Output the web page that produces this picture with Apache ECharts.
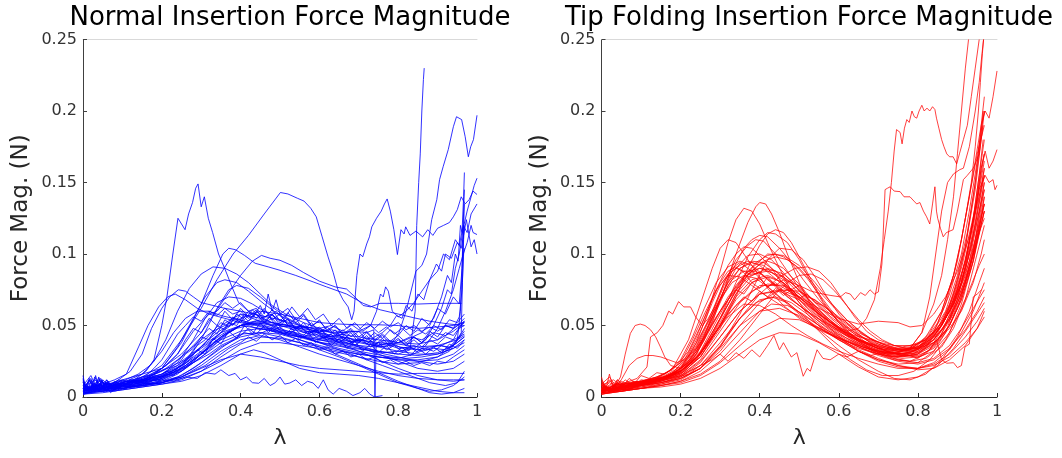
<!DOCTYPE html>
<html>
<head>
<meta charset="utf-8">
<script src="https://cdn.jsdelivr.net/npm/echarts@6/dist/echarts.min.js"></script>
<style>html,body{margin:0;padding:0;background:#fff}#c{width:1062px;height:458px}</style>
</head>
<body>
<div id="c"></div>
<script>
const titles = ['Normal Insertion Force Magnitude', 'Tip Folding Insertion Force Magnitude'];
const yName = 'Force Mag. (N)';
const xName = 'λ';
const xTicks = [0, 0.2, 0.4, 0.6, 0.8, 1];
const yTicks = [0, 0.05, 0.1, 0.15, 0.2, 0.25];

// ---- Normal insertion (blue) curves: [lambda, force] ----
const blue01 = [[0,0.004],[0.03,0.009],[0.06,0.006],[0.1,0.01],[0.13,0.012],[0.16,0.018],[0.18,0.026],[0.2,0.05],[0.213,0.07],[0.228,0.1],[0.241,0.125],[0.25,0.121],[0.259,0.117],[0.268,0.128],[0.278,0.136],[0.286,0.146],[0.292,0.149],[0.3,0.133],[0.308,0.14],[0.318,0.125],[0.329,0.115],[0.344,0.1],[0.361,0.089],[0.378,0.077],[0.395,0.066],[0.42,0.06],[0.45,0.056],[0.48,0.052],[0.52,0.05],[0.56,0.046],[0.6,0.045],[0.65,0.042],[0.7,0.04],[0.75,0.038],[0.8,0.037],[0.85,0.035],[0.9,0.036],[0.95,0.04],[0.968,0.043]];
const blue02 = [[0,0.003],[0.05,0.006],[0.1,0.01],[0.15,0.014],[0.2,0.022],[0.25,0.04],[0.3,0.062],[0.34,0.082],[0.381,0.1],[0.42,0.113],[0.46,0.128],[0.501,0.143],[0.52,0.142],[0.544,0.139],[0.561,0.137],[0.578,0.132],[0.592,0.126],[0.607,0.112],[0.622,0.098],[0.635,0.087],[0.647,0.075],[0.66,0.068],[0.673,0.063],[0.682,0.054],[0.688,0.06],[0.695,0.085],[0.703,0.1],[0.71,0.098],[0.72,0.107],[0.727,0.112],[0.733,0.119],[0.745,0.125],[0.757,0.13],[0.765,0.135],[0.772,0.1385],[0.78,0.13],[0.789,0.117],[0.798,0.0996],[0.807,0.117],[0.815,0.114],[0.819,0.119],[0.83,0.113],[0.845,0.116],[0.862,0.112],[0.875,0.117],[0.888,0.113],[0.9,0.118],[0.915,0.12],[0.93,0.122],[0.94,0.126],[0.95,0.131],[0.96,0.14],[0.97,0.135],[0.98,0.138],[0.99,0.144],[1.0,0.1416]];
const blue03 = [[0,0.005],[0.05,0.007],[0.1,0.009],[0.15,0.013],[0.2,0.02],[0.25,0.038],[0.3,0.065],[0.33,0.085],[0.355,0.1],[0.37,0.104],[0.387,0.103],[0.41,0.099],[0.437,0.0935],[0.47,0.091],[0.5,0.0886],[0.54,0.085],[0.584,0.0805],[0.618,0.077],[0.669,0.072],[0.711,0.0655],[0.754,0.061],[0.8,0.058],[0.838,0.0555],[0.88,0.053],[0.93,0.051],[0.968,0.05]];
const blue04 = [[0,0.006],[0.05,0.008],[0.1,0.012],[0.15,0.016],[0.2,0.02],[0.25,0.03],[0.3,0.045],[0.35,0.065],[0.4,0.085],[0.43,0.095],[0.453,0.099],[0.475,0.097],[0.5,0.0956],[0.53,0.092],[0.56,0.087],[0.6,0.081],[0.64,0.077],[0.669,0.0755],[0.69,0.07],[0.711,0.064],[0.73,0.063],[0.754,0.0655],[0.8,0.0655],[0.85,0.065],[0.9,0.0655],[0.961,0.0655]];
const blue05 = [[0,0.01],[0.02,0.004],[0.04,0.012],[0.07,0.006],[0.1,0.009],[0.15,0.012],[0.2,0.018],[0.25,0.025],[0.3,0.035],[0.35,0.045],[0.4,0.05],[0.45,0.048],[0.5,0.045],[0.55,0.042],[0.6,0.04],[0.65,0.038],[0.7,0.035],[0.75,0.032],[0.8,0.03],[0.83,0.033],[0.843,0.06],[0.847,0.12],[0.852,0.15],[0.856,0.17],[0.86,0.2],[0.864,0.222],[0.866,0.23]];
const blue06 = [[0,0.002],[0.05,0.005],[0.1,0.008],[0.15,0.01],[0.2,0.014],[0.25,0.022],[0.3,0.035],[0.35,0.05],[0.4,0.058],[0.45,0.055],[0.5,0.05],[0.55,0.046],[0.6,0.042],[0.65,0.04],[0.7,0.038],[0.74,0.036],[0.77,0.035],[0.79,0.04],[0.802,0.045],[0.82,0.06],[0.845,0.088],[0.86,0.092],[0.872,0.1],[0.885,0.124],[0.898,0.138],[0.905,0.152],[0.914,0.161],[0.927,0.173],[0.94,0.189],[0.948,0.196],[0.961,0.194],[0.97,0.182],[0.978,0.168],[0.984,0.175],[0.991,0.18],[1.0,0.197]];
const blue07 = [[0,0.008],[0.04,0.006],[0.08,0.01],[0.12,0.018],[0.15,0.03],[0.174,0.048],[0.2,0.062],[0.22,0.07],[0.242,0.075],[0.26,0.074],[0.28,0.07],[0.3,0.066],[0.33,0.064],[0.36,0.062],[0.4,0.06],[0.45,0.057],[0.5,0.054],[0.55,0.05],[0.6,0.047],[0.65,0.044],[0.7,0.042],[0.75,0.04],[0.8,0.038],[0.85,0.037],[0.9,0.04],[0.94,0.046],[0.968,0.052]];
const blue08 = [[0,0.004],[0.05,0.006],[0.1,0.01],[0.15,0.016],[0.18,0.025],[0.21,0.04],[0.24,0.06],[0.27,0.076],[0.3,0.086],[0.33,0.091],[0.36,0.09],[0.39,0.086],[0.42,0.08],[0.45,0.072],[0.48,0.064],[0.52,0.057],[0.56,0.052],[0.6,0.048],[0.65,0.043],[0.7,0.039],[0.75,0.035],[0.8,0.032],[0.85,0.03],[0.9,0.03],[0.94,0.034],[0.968,0.04]];
const blue09 = [[0,0.007],[0.05,0.005],[0.1,0.008],[0.15,0.012],[0.2,0.02],[0.24,0.035],[0.28,0.055],[0.31,0.07],[0.34,0.08],[0.36,0.082],[0.39,0.08],[0.42,0.074],[0.46,0.065],[0.5,0.057],[0.55,0.05],[0.6,0.045],[0.65,0.04],[0.7,0.035],[0.75,0.03],[0.8,0.025],[0.85,0.02],[0.9,0.018],[0.94,0.02],[0.968,0.025]];
const blue10 = [[0,0.003],[0.05,0.004],[0.1,0.006],[0.15,0.009],[0.2,0.013],[0.25,0.022],[0.3,0.04],[0.34,0.062],[0.37,0.075],[0.39,0.078],[0.42,0.076],[0.45,0.07],[0.48,0.063],[0.52,0.055],[0.56,0.049],[0.6,0.044],[0.65,0.038],[0.7,0.032],[0.75,0.026],[0.8,0.02],[0.85,0.015],[0.9,0.012],[0.94,0.011],[0.968,0.012]];
const blue11 = [[0,0.002],[0.05,0.003],[0.1,0.005],[0.15,0.007],[0.2,0.009],[0.25,0.011],[0.3,0.015],[0.35,0.022],[0.4,0.03],[0.433,0.033],[0.46,0.031],[0.5,0.026],[0.55,0.02],[0.6,0.017],[0.65,0.016],[0.7,0.015],[0.75,0.013],[0.8,0.01],[0.85,0.007],[0.9,0.004],[0.94,0.003],[0.968,0.003]];
const blue12 = [[0,0.006],[0.02,0.013],[0.03,0.004],[0.05,0.011],[0.07,0.003],[0.09,0.008],[0.12,0.007],[0.15,0.01],[0.18,0.009],[0.2,0.012],[0.23,0.011],[0.26,0.014],[0.29,0.013],[0.31,0.017],[0.335,0.016],[0.35,0.019],[0.37,0.015],[0.386,0.0165],[0.4,0.012],[0.415,0.014],[0.43,0.01],[0.446,0.0096],[0.46,0.013],[0.475,0.008],[0.488,0.01],[0.5,0.014],[0.512,0.009],[0.525,0.0098],[0.54,0.012],[0.555,0.008],[0.57,0.011],[0.584,0.0098],[0.597,0.006],[0.61,0.012],[0.622,0.005],[0.635,0.002],[0.65,0.006],[0.669,0.004],[0.685,0.001],[0.703,0.003],[0.715,0.006],[0.728,0.002],[0.74,0.0],[0.76,0.001]];
const blue13 = [[0,0.012],[0.015,0.003],[0.03,0.014],[0.045,0.005],[0.06,0.012],[0.08,0.006],[0.1,0.01],[0.12,0.008],[0.14,0.013],[0.16,0.011],[0.18,0.015],[0.2,0.014],[0.22,0.02],[0.24,0.022],[0.26,0.03],[0.28,0.034],[0.3,0.042],[0.32,0.04],[0.34,0.05],[0.36,0.047],[0.38,0.056],[0.4,0.052],[0.42,0.06],[0.44,0.055],[0.46,0.062],[0.48,0.054],[0.5,0.058],[0.52,0.05],[0.54,0.055],[0.56,0.047],[0.58,0.052],[0.6,0.045],[0.62,0.049],[0.64,0.043],[0.66,0.047],[0.68,0.042],[0.7,0.046],[0.72,0.04],[0.74,0.045],[0.76,0.041],[0.78,0.047],[0.8,0.043],[0.82,0.05],[0.84,0.046],[0.86,0.055],[0.88,0.05],[0.9,0.062],[0.92,0.058],[0.94,0.07],[0.955,0.065],[0.962,0.09],[0.966,0.13],[0.968,0.145]];
const blue14 = [[0,0.008],[0.02,0.015],[0.035,0.006],[0.05,0.012],[0.07,0.007],[0.09,0.011],[0.11,0.009],[0.13,0.012],[0.15,0.01],[0.17,0.014],[0.19,0.013],[0.21,0.018],[0.23,0.017],[0.25,0.024],[0.27,0.028],[0.29,0.036],[0.31,0.04],[0.33,0.046],[0.35,0.052],[0.37,0.049],[0.39,0.058],[0.41,0.054],[0.43,0.061],[0.45,0.055],[0.47,0.057],[0.49,0.05],[0.51,0.054],[0.53,0.047],[0.55,0.05],[0.57,0.044],[0.59,0.047],[0.61,0.041],[0.63,0.044],[0.65,0.038],[0.67,0.042],[0.69,0.036],[0.71,0.04],[0.73,0.035],[0.75,0.038],[0.77,0.033],[0.79,0.036],[0.81,0.032],[0.83,0.035],[0.85,0.031],[0.87,0.034],[0.89,0.032],[0.91,0.036],[0.93,0.034],[0.95,0.04],[0.96,0.045],[0.963,0.08],[0.966,0.11],[0.968,0.12]];
const blue15 = [[0,0.005],[0.02,0.01],[0.04,0.004],[0.06,0.009],[0.08,0.005],[0.1,0.008],[0.13,0.009],[0.16,0.011],[0.19,0.012],[0.22,0.015],[0.25,0.019],[0.28,0.025],[0.31,0.033],[0.33,0.04],[0.35,0.045],[0.37,0.052],[0.39,0.05],[0.41,0.058],[0.43,0.055],[0.45,0.064],[0.46,0.058],[0.47,0.072],[0.48,0.06],[0.49,0.068],[0.5,0.058],[0.52,0.062],[0.54,0.054],[0.56,0.058],[0.58,0.05],[0.6,0.053],[0.62,0.047],[0.64,0.05],[0.66,0.044],[0.68,0.048],[0.7,0.042],[0.72,0.046],[0.74,0.04],[0.76,0.044],[0.78,0.039],[0.8,0.043],[0.82,0.038],[0.84,0.042],[0.86,0.038],[0.88,0.043],[0.9,0.04],[0.92,0.045],[0.94,0.043],[0.96,0.05],[0.968,0.053]];
const blue16 = [[0,0.003],[0.03,0.008],[0.06,0.004],[0.1,0.007],[0.15,0.009],[0.2,0.011],[0.24,0.014],[0.28,0.02],[0.32,0.028],[0.36,0.036],[0.4,0.043],[0.42,0.048],[0.44,0.044],[0.46,0.05],[0.48,0.046],[0.5,0.049],[0.52,0.044],[0.54,0.047],[0.56,0.042],[0.58,0.045],[0.6,0.04],[0.62,0.043],[0.64,0.039],[0.66,0.042],[0.68,0.038],[0.7,0.041],[0.72,0.037],[0.74,0.042],[0.76,0.045],[0.78,0.05],[0.796,0.057],[0.81,0.055],[0.82,0.064],[0.835,0.06],[0.85,0.072],[0.865,0.068],[0.88,0.082],[0.897,0.093],[0.91,0.088],[0.92,0.1],[0.935,0.097],[0.95,0.108],[0.96,0.104],[0.973,0.124],[0.985,0.105],[0.993,0.11],[1.0,0.1]];
const blue17 = [[0,0.009],[0.025,0.004],[0.05,0.01],[0.075,0.006],[0.1,0.011],[0.14,0.01],[0.18,0.013],[0.22,0.016],[0.26,0.022],[0.3,0.03],[0.33,0.038],[0.36,0.044],[0.39,0.048],[0.42,0.05],[0.45,0.047],[0.48,0.048],[0.52,0.043],[0.56,0.042],[0.6,0.038],[0.64,0.037],[0.68,0.034],[0.72,0.033],[0.76,0.031],[0.8,0.032],[0.84,0.034],[0.87,0.04],[0.89,0.05],[0.91,0.062],[0.925,0.075],[0.935,0.072],[0.945,0.09],[0.955,0.1],[0.965,0.118],[0.975,0.13],[0.985,0.14],[0.993,0.148],[1.0,0.153]];
const blue18 = [[0,0.004],[0.05,0.007],[0.1,0.006],[0.15,0.008],[0.2,0.01],[0.25,0.015],[0.3,0.024],[0.35,0.035],[0.4,0.042],[0.45,0.045],[0.5,0.044],[0.55,0.04],[0.6,0.036],[0.65,0.033],[0.7,0.03],[0.75,0.028],[0.8,0.027],[0.84,0.03],[0.87,0.036],[0.9,0.048],[0.92,0.06],[0.94,0.075],[0.955,0.09],[0.965,0.1],[0.975,0.108],[0.985,0.12],[0.99,0.115],[1.0,0.1136]];
const blue19 = [[0,0.007],[0.03,0.012],[0.06,0.005],[0.09,0.01],[0.12,0.008],[0.16,0.012],[0.2,0.015],[0.24,0.02],[0.28,0.03],[0.31,0.038],[0.34,0.045],[0.37,0.05],[0.4,0.053],[0.43,0.05],[0.46,0.052],[0.5,0.047],[0.54,0.045],[0.58,0.042],[0.62,0.04],[0.66,0.038],[0.7,0.036],[0.74,0.035],[0.78,0.036],[0.82,0.04],[0.86,0.045],[0.89,0.055],[0.91,0.07],[0.925,0.085],[0.935,0.08],[0.945,0.1],[0.952,0.095],[0.958,0.12],[0.962,0.115],[0.966,0.14],[0.968,0.157]];
const blue20 = [[0,0.002],[0.04,0.005],[0.08,0.004],[0.12,0.007],[0.16,0.008],[0.2,0.011],[0.24,0.016],[0.28,0.025],[0.32,0.035],[0.36,0.044],[0.4,0.05],[0.44,0.052],[0.48,0.05],[0.52,0.046],[0.56,0.042],[0.6,0.038],[0.64,0.034],[0.68,0.03],[0.72,0.026],[0.76,0.022],[0.8,0.018],[0.84,0.014],[0.88,0.01],[0.92,0.008],[0.95,0.01],[0.968,0.018]];
const blue21 = [[0,0.01],[0.02,0.004],[0.04,0.013],[0.06,0.007],[0.09,0.012],[0.12,0.01],[0.15,0.014],[0.18,0.016],[0.21,0.02],[0.24,0.026],[0.27,0.033],[0.3,0.04],[0.33,0.046],[0.36,0.05],[0.39,0.055],[0.42,0.052],[0.45,0.054],[0.48,0.05],[0.51,0.051],[0.54,0.048],[0.57,0.049],[0.6,0.046],[0.63,0.047],[0.66,0.045],[0.69,0.046],[0.72,0.045],[0.738,0.047],[0.741,0.0],[0.744,0.035],[0.76,0.038],[0.79,0.036],[0.82,0.034],[0.85,0.033],[0.88,0.035],[0.91,0.036],[0.94,0.04],[0.968,0.044]];
const blue22 = [[0,0.005],[0.05,0.009],[0.1,0.008],[0.15,0.011],[0.2,0.014],[0.25,0.02],[0.3,0.03],[0.35,0.042],[0.4,0.05],[0.45,0.052],[0.5,0.05],[0.55,0.048],[0.6,0.046],[0.65,0.045],[0.7,0.046],[0.73,0.05],[0.745,0.06],[0.755,0.072],[0.762,0.07],[0.768,0.077],[0.775,0.074],[0.785,0.06],[0.8,0.056],[0.82,0.06],[0.84,0.066],[0.86,0.074],[0.88,0.082],[0.9,0.088],[0.915,0.1],[0.93,0.096],[0.945,0.11],[0.955,0.106],[0.965,0.12],[0.975,0.115],[0.985,0.128],[1.0,0.135]];
const blue23 = [[0,0.003],[0.05,0.004],[0.1,0.006],[0.15,0.008],[0.2,0.012],[0.25,0.018],[0.3,0.028],[0.35,0.038],[0.4,0.044],[0.45,0.045],[0.5,0.042],[0.55,0.038],[0.6,0.033],[0.65,0.028],[0.7,0.022],[0.75,0.016],[0.8,0.01],[0.85,0.006],[0.88,0.004],[0.91,0.005],[0.94,0.008],[0.968,0.014]];
const blue24 = [[0,0.006],[0.05,0.005],[0.1,0.007],[0.15,0.009],[0.2,0.01],[0.25,0.013],[0.3,0.018],[0.35,0.025],[0.4,0.033],[0.45,0.038],[0.5,0.038],[0.55,0.036],[0.6,0.034],[0.65,0.031],[0.7,0.028],[0.75,0.025],[0.8,0.023],[0.85,0.024],[0.9,0.028],[0.94,0.036],[0.968,0.046]];
const blue25 = [[0,0.004],[0.05,0.006],[0.1,0.007],[0.15,0.008],[0.2,0.01],[0.25,0.014],[0.3,0.02],[0.35,0.026],[0.4,0.03],[0.45,0.028],[0.5,0.025],[0.55,0.022],[0.6,0.02],[0.65,0.019],[0.7,0.018],[0.75,0.017],[0.8,0.016],[0.85,0.0165],[0.9,0.0165],[0.968,0.0165]];
const blue26 = [[0,0.011],[0.02,0.005],[0.04,0.01],[0.06,0.004],[0.08,0.009],[0.1,0.012],[0.13,0.01],[0.16,0.013],[0.19,0.017],[0.22,0.021],[0.25,0.028],[0.28,0.036],[0.3,0.042],[0.32,0.048],[0.34,0.044],[0.36,0.054],[0.38,0.05],[0.4,0.058],[0.42,0.053],[0.44,0.06],[0.46,0.055],[0.48,0.061],[0.5,0.053],[0.52,0.059],[0.54,0.052],[0.56,0.057],[0.58,0.049],[0.6,0.054],[0.62,0.046],[0.64,0.05],[0.66,0.043],[0.68,0.047],[0.7,0.04],[0.72,0.045],[0.74,0.039],[0.76,0.043],[0.78,0.037],[0.8,0.041],[0.82,0.036],[0.84,0.04],[0.86,0.035],[0.88,0.04],[0.9,0.037],[0.92,0.042],[0.94,0.04],[0.955,0.048],[0.968,0.05]];
const blue27 = [[0,0.002],[0.05,0.004],[0.1,0.005],[0.15,0.007],[0.2,0.009],[0.25,0.012],[0.3,0.018],[0.35,0.028],[0.4,0.037],[0.45,0.042],[0.5,0.041],[0.55,0.038],[0.6,0.035],[0.65,0.032],[0.7,0.03],[0.75,0.028],[0.8,0.026],[0.85,0.026],[0.9,0.028],[0.93,0.032],[0.95,0.04],[0.958,0.06],[0.962,0.09],[0.965,0.11],[0.968,0.135]];
const blue28 = [[0,0.005],[0.05,0.006],[0.1,0.009],[0.15,0.012],[0.2,0.016],[0.24,0.024],[0.28,0.04],[0.31,0.055],[0.34,0.066],[0.37,0.07],[0.4,0.069],[0.43,0.065],[0.46,0.06],[0.5,0.054],[0.55,0.048],[0.6,0.043],[0.65,0.039],[0.7,0.036],[0.75,0.032],[0.8,0.03],[0.85,0.029],[0.9,0.031],[0.94,0.036],[0.968,0.042]];
const blue29 = [[0,0.006],[0.04,0.008],[0.08,0.012],[0.11,0.016],[0.141,0.035],[0.165,0.05],[0.192,0.063],[0.215,0.07],[0.234,0.072],[0.26,0.068],[0.29,0.062],[0.32,0.058],[0.36,0.055],[0.4,0.052],[0.45,0.05],[0.5,0.046],[0.55,0.043],[0.6,0.04],[0.65,0.037],[0.7,0.034],[0.75,0.031],[0.8,0.028],[0.85,0.025],[0.9,0.023],[0.94,0.025],[0.968,0.03]];
const blue30 = [[0,0.004],[0.05,0.01],[0.1,0.008],[0.15,0.012],[0.2,0.016],[0.25,0.022],[0.3,0.032],[0.35,0.045],[0.4,0.055],[0.45,0.06],[0.5,0.058],[0.55,0.055],[0.6,0.052],[0.65,0.051],[0.7,0.0505],[0.75,0.0505],[0.8,0.05],[0.85,0.048],[0.9,0.049],[0.94,0.05],[0.968,0.052]];
const blue31 = [[0,0.013],[0.01,0.003],[0.02,0.011],[0.03,0.005],[0.04,0.014],[0.05,0.006],[0.06,0.012],[0.075,0.004],[0.09,0.01],[0.11,0.006],[0.13,0.011],[0.15,0.008],[0.17,0.013],[0.19,0.011],[0.21,0.016],[0.23,0.015],[0.25,0.021],[0.27,0.026],[0.29,0.033],[0.31,0.03],[0.33,0.041],[0.35,0.037],[0.37,0.046],[0.39,0.041],[0.41,0.05],[0.43,0.044],[0.45,0.052],[0.47,0.045],[0.49,0.05],[0.51,0.043],[0.53,0.048],[0.55,0.04],[0.57,0.046],[0.59,0.038],[0.61,0.043],[0.63,0.036],[0.65,0.041],[0.67,0.034],[0.69,0.039],[0.71,0.032],[0.73,0.037],[0.75,0.031],[0.77,0.036],[0.79,0.03],[0.81,0.035],[0.83,0.029],[0.85,0.034],[0.87,0.03],[0.89,0.035],[0.91,0.031],[0.93,0.037],[0.95,0.034],[0.968,0.04]];
const blue32 = [[0,0.004],[0.015,0.012],[0.03,0.006],[0.045,0.013],[0.06,0.005],[0.08,0.011],[0.1,0.007],[0.12,0.012],[0.15,0.011],[0.18,0.016],[0.21,0.022],[0.24,0.03],[0.26,0.04],[0.28,0.048],[0.3,0.045],[0.32,0.055],[0.34,0.05],[0.36,0.06],[0.38,0.054],[0.4,0.062],[0.42,0.056],[0.44,0.061],[0.46,0.053],[0.48,0.058],[0.5,0.05],[0.52,0.055],[0.54,0.047],[0.56,0.052],[0.58,0.045],[0.6,0.049],[0.62,0.042],[0.64,0.047],[0.66,0.04],[0.68,0.045],[0.7,0.038],[0.72,0.043],[0.74,0.036],[0.76,0.041],[0.78,0.035],[0.8,0.04],[0.82,0.036],[0.84,0.042],[0.86,0.038],[0.88,0.046],[0.9,0.042],[0.92,0.05],[0.94,0.048],[0.955,0.056],[0.962,0.075],[0.966,0.1],[0.968,0.104]];
const blue33 = [[0,0.008],[0.02,0.003],[0.04,0.009],[0.06,0.005],[0.08,0.01],[0.1,0.008],[0.13,0.012],[0.16,0.015],[0.18,0.02],[0.2,0.026],[0.22,0.035],[0.24,0.044],[0.26,0.05],[0.28,0.056],[0.3,0.053],[0.32,0.06],[0.34,0.057],[0.36,0.062],[0.38,0.058],[0.4,0.06],[0.42,0.055],[0.44,0.058],[0.46,0.052],[0.48,0.055],[0.5,0.049],[0.53,0.05],[0.56,0.045],[0.59,0.046],[0.62,0.042],[0.65,0.043],[0.68,0.039],[0.71,0.04],[0.74,0.036],[0.77,0.037],[0.8,0.034],[0.83,0.035],[0.86,0.032],[0.89,0.034],[0.92,0.033],[0.95,0.038],[0.968,0.042]];
const blue34 = [[0,0.006],[0.02,0.012],[0.04,0.004],[0.06,0.01],[0.08,0.005],[0.1,0.009],[0.13,0.007],[0.16,0.01],[0.19,0.009],[0.22,0.012],[0.25,0.014],[0.28,0.018],[0.31,0.022],[0.34,0.028],[0.37,0.034],[0.4,0.038],[0.42,0.042],[0.44,0.039],[0.46,0.044],[0.48,0.04],[0.5,0.043],[0.52,0.038],[0.54,0.041],[0.56,0.036],[0.58,0.038],[0.6,0.033],[0.62,0.035],[0.64,0.03],[0.66,0.032],[0.68,0.028],[0.7,0.03],[0.72,0.026],[0.74,0.028],[0.76,0.024],[0.78,0.026],[0.8,0.023],[0.82,0.025],[0.84,0.022],[0.86,0.024],[0.88,0.022],[0.9,0.025],[0.92,0.024],[0.94,0.028],[0.968,0.033]];
const blue35 = [[0,0.003],[0.03,0.009],[0.06,0.005],[0.09,0.009],[0.12,0.01],[0.15,0.013],[0.18,0.016],[0.21,0.022],[0.24,0.03],[0.26,0.038],[0.28,0.046],[0.3,0.052],[0.32,0.058],[0.34,0.06],[0.36,0.066],[0.38,0.062],[0.4,0.066],[0.42,0.06],[0.44,0.062],[0.46,0.056],[0.48,0.058],[0.5,0.052],[0.52,0.054],[0.54,0.048],[0.56,0.05],[0.58,0.045],[0.6,0.047],[0.63,0.042],[0.66,0.044],[0.69,0.039],[0.72,0.041],[0.75,0.036],[0.78,0.038],[0.81,0.034],[0.84,0.036],[0.87,0.033],[0.9,0.036],[0.93,0.035],[0.955,0.042],[0.968,0.048]];
const blue36 = [[0,0.005],[0.04,0.011],[0.08,0.007],[0.12,0.012],[0.16,0.01],[0.2,0.014],[0.24,0.018],[0.28,0.024],[0.32,0.03],[0.35,0.036],[0.38,0.04],[0.41,0.045],[0.44,0.043],[0.47,0.047],[0.5,0.044],[0.53,0.046],[0.56,0.042],[0.59,0.044],[0.62,0.04],[0.65,0.042],[0.68,0.038],[0.71,0.04],[0.74,0.037],[0.77,0.04],[0.8,0.038],[0.83,0.042],[0.86,0.04],[0.89,0.045],[0.92,0.043],[0.95,0.05],[0.968,0.055]];
const blue37 = [[0,0.015],[0.008,0.004],[0.016,0.013],[0.024,0.006],[0.032,0.015],[0.04,0.007],[0.048,0.012],[0.056,0.005],[0.064,0.011],[0.072,0.006],[0.08,0.01],[0.09,0.005],[0.1,0.009],[0.12,0.007],[0.14,0.01],[0.16,0.009],[0.18,0.012],[0.2,0.012],[0.22,0.015],[0.25,0.018],[0.28,0.024],[0.31,0.03],[0.34,0.038],[0.37,0.045],[0.4,0.05],[0.43,0.052],[0.46,0.05],[0.5,0.047],[0.54,0.043],[0.58,0.04],[0.62,0.037],[0.66,0.035],[0.7,0.032],[0.74,0.03],[0.78,0.028],[0.82,0.027],[0.86,0.028],[0.9,0.03],[0.94,0.034],[0.968,0.038]];
const blue38 = [[0,0.004],[0.04,0.008],[0.08,0.006],[0.12,0.01],[0.16,0.012],[0.2,0.015],[0.24,0.02],[0.28,0.027],[0.32,0.035],[0.36,0.043],[0.4,0.05],[0.43,0.055],[0.46,0.052],[0.49,0.06],[0.51,0.054],[0.53,0.063],[0.55,0.056],[0.57,0.062],[0.59,0.054],[0.61,0.058],[0.63,0.05],[0.65,0.055],[0.67,0.048],[0.69,0.052],[0.71,0.046],[0.73,0.05],[0.75,0.045],[0.77,0.049],[0.79,0.044],[0.81,0.048],[0.83,0.043],[0.85,0.047],[0.87,0.044],[0.89,0.05],[0.91,0.047],[0.93,0.054],[0.95,0.052],[0.968,0.058]];
const blue39 = [[0,0.003],[0.05,0.005],[0.1,0.006],[0.15,0.008],[0.2,0.01],[0.25,0.014],[0.3,0.022],[0.35,0.032],[0.4,0.04],[0.45,0.043],[0.5,0.04],[0.55,0.035],[0.6,0.03],[0.65,0.026],[0.7,0.022],[0.75,0.018],[0.8,0.015],[0.85,0.013],[0.9,0.012],[0.94,0.012],[0.968,0.012]];
const blue40 = [[0,0.007],[0.05,0.004],[0.1,0.008],[0.15,0.01],[0.2,0.013],[0.25,0.02],[0.3,0.03],[0.35,0.04],[0.4,0.046],[0.45,0.048],[0.5,0.045],[0.55,0.04],[0.6,0.035],[0.65,0.029],[0.7,0.023],[0.75,0.017],[0.8,0.011],[0.85,0.006],[0.88,0.003],[0.91,0.002],[0.94,0.003],[0.968,0.006]];
const blue41 = [[0,0.005],[0.05,0.008],[0.1,0.011],[0.14,0.016],[0.17,0.022],[0.2,0.032],[0.23,0.045],[0.26,0.055],[0.29,0.06],[0.32,0.06],[0.35,0.057],[0.38,0.055],[0.41,0.053],[0.44,0.05],[0.48,0.047],[0.52,0.044],[0.56,0.041],[0.6,0.038],[0.65,0.034],[0.7,0.031],[0.75,0.028],[0.8,0.026],[0.85,0.025],[0.9,0.026],[0.94,0.03],[0.968,0.036]];
const blue42 = [[0,0.009],[0.03,0.004],[0.06,0.01],[0.09,0.006],[0.12,0.011],[0.16,0.012],[0.2,0.016],[0.24,0.022],[0.28,0.03],[0.32,0.038],[0.36,0.045],[0.4,0.05],[0.44,0.053],[0.48,0.052],[0.52,0.05],[0.56,0.049],[0.6,0.048],[0.63,0.05],[0.66,0.046],[0.68,0.051],[0.7,0.047],[0.72,0.052],[0.74,0.048],[0.76,0.053],[0.78,0.049],[0.8,0.052],[0.82,0.047],[0.84,0.05],[0.86,0.046],[0.88,0.049],[0.9,0.046],[0.92,0.05],[0.94,0.048],[0.968,0.053]];

// ---- Tip folding insertion (red) curves: [lambda, force] ----
const red01 = [[0,0.003],[0.03,0.006],[0.06,0.005],[0.1,0.008],[0.15,0.011],[0.2,0.018],[0.24,0.03],[0.28,0.052],[0.31,0.075],[0.34,0.1],[0.37,0.122],[0.39,0.133],[0.4,0.136],[0.415,0.135],[0.43,0.128],[0.45,0.115],[0.47,0.1],[0.5,0.08],[0.53,0.064],[0.57,0.05],[0.61,0.04],[0.65,0.032],[0.7,0.026],[0.75,0.023],[0.8,0.024],[0.84,0.032],[0.87,0.045],[0.9,0.068],[0.92,0.092],[0.94,0.125],[0.955,0.155],[0.965,0.18]];
const red02 = [[0,0.006],[0.03,0.004],[0.06,0.008],[0.1,0.009],[0.15,0.012],[0.2,0.02],[0.24,0.038],[0.27,0.06],[0.3,0.088],[0.32,0.108],[0.34,0.124],[0.36,0.132],[0.38,0.13],[0.4,0.121],[0.42,0.108],[0.45,0.09],[0.48,0.074],[0.52,0.058],[0.56,0.047],[0.6,0.04],[0.65,0.034],[0.7,0.03],[0.75,0.028],[0.8,0.03],[0.84,0.04],[0.87,0.055],[0.9,0.08],[0.92,0.105],[0.94,0.14],[0.955,0.17],[0.965,0.2]];
const red03 = [[0,0.004],[0.04,0.007],[0.08,0.008],[0.12,0.01],[0.16,0.013],[0.2,0.018],[0.25,0.03],[0.3,0.055],[0.34,0.08],[0.37,0.098],[0.4,0.11],[0.42,0.115],[0.44,0.114],[0.47,0.108],[0.5,0.096],[0.53,0.08],[0.56,0.066],[0.6,0.052],[0.64,0.042],[0.68,0.035],[0.72,0.03],[0.76,0.028],[0.8,0.03],[0.84,0.038],[0.88,0.055],[0.91,0.08],[0.935,0.11],[0.955,0.145],[0.968,0.165]];
const red04 = [[0,0.008],[0.03,0.004],[0.06,0.009],[0.1,0.01],[0.14,0.013],[0.18,0.02],[0.22,0.04],[0.25,0.065],[0.28,0.09],[0.3,0.104],[0.32,0.11],[0.34,0.108],[0.36,0.1],[0.39,0.088],[0.42,0.076],[0.46,0.064],[0.5,0.055],[0.55,0.047],[0.6,0.041],[0.65,0.036],[0.7,0.032],[0.75,0.03],[0.8,0.032],[0.84,0.04],[0.88,0.055],[0.91,0.075],[0.94,0.1],[0.96,0.125],[0.968,0.135]];
const red05 = [[0,0.01],[0.02,0.003],[0.04,0.012],[0.07,0.006],[0.1,0.01],[0.14,0.012],[0.18,0.016],[0.22,0.025],[0.26,0.042],[0.3,0.068],[0.33,0.088],[0.36,0.104],[0.38,0.11],[0.4,0.113],[0.42,0.112],[0.45,0.104],[0.48,0.094],[0.51,0.082],[0.55,0.068],[0.59,0.056],[0.63,0.046],[0.67,0.038],[0.71,0.032],[0.75,0.03],[0.79,0.032],[0.83,0.042],[0.87,0.06],[0.9,0.085],[0.925,0.115],[0.945,0.15],[0.96,0.19],[0.968,0.21]];
const red06 = [[0,0.002],[0.05,0.005],[0.1,0.008],[0.15,0.011],[0.2,0.016],[0.25,0.028],[0.3,0.05],[0.34,0.072],[0.38,0.09],[0.42,0.1],[0.46,0.099],[0.5,0.092],[0.54,0.08],[0.58,0.066],[0.62,0.054],[0.66,0.044],[0.7,0.037],[0.74,0.033],[0.78,0.033],[0.82,0.038],[0.86,0.05],[0.89,0.065],[0.92,0.088],[0.945,0.12],[0.96,0.145],[0.968,0.16]];
const red07 = [[0,0.005],[0.05,0.006],[0.1,0.009],[0.15,0.012],[0.2,0.015],[0.25,0.022],[0.3,0.035],[0.35,0.055],[0.4,0.072],[0.45,0.084],[0.49,0.09],[0.52,0.091],[0.55,0.088],[0.58,0.08],[0.61,0.068],[0.64,0.056],[0.67,0.046],[0.7,0.04],[0.74,0.036],[0.78,0.036],[0.82,0.04],[0.86,0.05],[0.9,0.07],[0.93,0.095],[0.955,0.13],[0.968,0.15]];
const red08 = [[0,0.012],[0.02,0.004],[0.04,0.01],[0.06,0.007],[0.09,0.01],[0.12,0.011],[0.15,0.013],[0.18,0.017],[0.21,0.026],[0.24,0.042],[0.27,0.062],[0.3,0.08],[0.32,0.088],[0.34,0.091],[0.36,0.087],[0.38,0.08],[0.4,0.083],[0.42,0.077],[0.44,0.08],[0.46,0.074],[0.48,0.076],[0.5,0.069],[0.53,0.064],[0.56,0.056],[0.6,0.048],[0.64,0.041],[0.68,0.036],[0.72,0.032],[0.76,0.03],[0.8,0.031],[0.84,0.037],[0.88,0.05],[0.91,0.068],[0.94,0.095],[0.96,0.12],[0.968,0.13]];
const red09 = [[0,0.004],[0.05,0.006],[0.1,0.008],[0.15,0.01],[0.2,0.013],[0.25,0.02],[0.3,0.032],[0.35,0.05],[0.4,0.066],[0.45,0.075],[0.5,0.074],[0.55,0.066],[0.6,0.055],[0.65,0.045],[0.7,0.038],[0.75,0.034],[0.8,0.034],[0.84,0.038],[0.88,0.048],[0.91,0.06],[0.94,0.08],[0.96,0.1],[0.968,0.11]];
const red10 = [[0,0.003],[0.05,0.005],[0.1,0.006],[0.15,0.008],[0.2,0.011],[0.25,0.018],[0.3,0.03],[0.35,0.045],[0.4,0.06],[0.43,0.065],[0.47,0.064],[0.51,0.058],[0.55,0.05],[0.6,0.04],[0.65,0.032],[0.7,0.026],[0.75,0.022],[0.8,0.02],[0.84,0.022],[0.88,0.028],[0.92,0.038],[0.95,0.048],[0.968,0.056]];
const red11 = [[0,0.002],[0.05,0.004],[0.1,0.006],[0.15,0.007],[0.2,0.009],[0.25,0.013],[0.3,0.02],[0.35,0.03],[0.4,0.04],[0.45,0.045],[0.5,0.044],[0.55,0.038],[0.6,0.03],[0.65,0.021],[0.7,0.014],[0.75,0.012],[0.8,0.014],[0.85,0.022],[0.89,0.034],[0.93,0.05],[0.968,0.066]];
const red12 = [[0,0.009],[0.02,0.003],[0.04,0.008],[0.07,0.005],[0.1,0.009],[0.14,0.011],[0.18,0.013],[0.22,0.016],[0.25,0.022],[0.28,0.026],[0.3,0.03],[0.32,0.025],[0.34,0.031],[0.36,0.027],[0.38,0.033],[0.4,0.028],[0.42,0.036],[0.436,0.043],[0.45,0.033],[0.46,0.038],[0.48,0.028],[0.494,0.031],[0.51,0.0145],[0.52,0.02],[0.528,0.018],[0.545,0.033],[0.56,0.027],[0.578,0.026],[0.6,0.03],[0.62,0.028],[0.65,0.032],[0.68,0.029],[0.71,0.031],[0.74,0.028],[0.77,0.03],[0.8,0.027],[0.83,0.033],[0.847,0.04],[0.86,0.026],[0.873,0.0236],[0.89,0.024],[0.9,0.0205],[0.91,0.022],[0.919,0.035],[0.93,0.037],[0.94,0.07],[0.95,0.072],[0.961,0.075]];
const red13 = [[0,0.005],[0.02,0.01],[0.035,0.008],[0.048,0.014],[0.06,0.03],[0.073,0.0445],[0.085,0.05],[0.098,0.051],[0.11,0.05],[0.124,0.047],[0.137,0.042],[0.149,0.035],[0.16,0.028],[0.175,0.022],[0.2,0.02],[0.23,0.026],[0.26,0.04],[0.29,0.06],[0.32,0.078],[0.35,0.09],[0.38,0.094],[0.41,0.092],[0.44,0.085],[0.48,0.074],[0.52,0.062],[0.56,0.052],[0.6,0.044],[0.65,0.037],[0.7,0.032],[0.75,0.03],[0.8,0.03],[0.84,0.036],[0.88,0.05],[0.91,0.068],[0.94,0.095],[0.96,0.125],[0.968,0.14]];
const red14 = [[0,0.004],[0.03,0.008],[0.06,0.01],[0.09,0.013],[0.115,0.021],[0.124,0.042],[0.141,0.045],[0.155,0.05],[0.17,0.06],[0.18,0.058],[0.195,0.0667],[0.208,0.063],[0.225,0.063],[0.238,0.056],[0.255,0.05],[0.27,0.055],[0.29,0.065],[0.31,0.078],[0.33,0.088],[0.35,0.092],[0.37,0.095],[0.4,0.092],[0.43,0.085],[0.46,0.078],[0.5,0.068],[0.54,0.058],[0.58,0.05],[0.62,0.043],[0.66,0.038],[0.7,0.034],[0.75,0.032],[0.8,0.034],[0.84,0.042],[0.87,0.055],[0.9,0.075],[0.925,0.1],[0.945,0.13],[0.96,0.16],[0.968,0.17]];
const red15 = [[0,0.003],[0.03,0.006],[0.05,0.012],[0.07,0.022],[0.09,0.027],[0.11,0.029],[0.13,0.029],[0.15,0.028],[0.17,0.026],[0.19,0.024],[0.21,0.026],[0.24,0.034],[0.27,0.05],[0.3,0.068],[0.33,0.082],[0.36,0.088],[0.39,0.088],[0.42,0.083],[0.46,0.074],[0.5,0.064],[0.54,0.055],[0.58,0.047],[0.62,0.04],[0.66,0.035],[0.7,0.031],[0.75,0.029],[0.8,0.031],[0.85,0.04],[0.89,0.058],[0.92,0.08],[0.945,0.11],[0.962,0.14],[0.968,0.15]];
const red16 = [[0,0.006],[0.04,0.009],[0.08,0.01],[0.12,0.012],[0.16,0.014],[0.2,0.018],[0.25,0.03],[0.3,0.05],[0.34,0.068],[0.38,0.08],[0.42,0.084],[0.46,0.08],[0.5,0.07],[0.54,0.06],[0.58,0.052],[0.62,0.046],[0.65,0.048],[0.67,0.055],[0.69,0.068],[0.705,0.09],[0.715,0.11],[0.725,0.13],[0.733,0.15],[0.74,0.172],[0.746,0.187],[0.755,0.185],[0.76,0.177],[0.766,0.188],[0.772,0.194],[0.778,0.192],[0.785,0.2],[0.791,0.196],[0.797,0.195],[0.803,0.2],[0.81,0.204],[0.816,0.2],[0.823,0.202],[0.83,0.2],[0.837,0.203],[0.843,0.201],[0.847,0.195],[0.853,0.188],[0.86,0.18],[0.866,0.175],[0.873,0.17],[0.88,0.168],[0.889,0.168],[0.898,0.163],[0.905,0.17],[0.915,0.18],[0.925,0.19],[0.935,0.21],[0.945,0.23],[0.955,0.25]];
const red17 = [[0,0.008],[0.03,0.004],[0.06,0.009],[0.1,0.01],[0.15,0.013],[0.2,0.018],[0.25,0.032],[0.3,0.058],[0.34,0.078],[0.37,0.088],[0.4,0.09],[0.43,0.087],[0.46,0.082],[0.5,0.078],[0.53,0.074],[0.56,0.072],[0.58,0.071],[0.604,0.07],[0.617,0.073],[0.629,0.072],[0.64,0.068],[0.655,0.073],[0.667,0.071],[0.679,0.075],[0.69,0.072],[0.7,0.0735],[0.709,0.093],[0.717,0.145],[0.723,0.146],[0.73,0.147],[0.74,0.144],[0.755,0.1436],[0.765,0.14],[0.78,0.14],[0.79,0.137],[0.797,0.135],[0.805,0.136],[0.814,0.13],[0.822,0.126],[0.83,0.121],[0.837,0.135],[0.843,0.147],[0.847,0.13],[0.85,0.125],[0.857,0.118],[0.864,0.112],[0.872,0.115],[0.889,0.117],[0.9,0.13],[0.915,0.152],[0.925,0.155],[0.94,0.16],[0.955,0.17],[0.965,0.19]];
const red18 = [[0,0.004],[0.05,0.007],[0.1,0.01],[0.15,0.012],[0.2,0.016],[0.25,0.028],[0.3,0.05],[0.34,0.07],[0.38,0.082],[0.42,0.085],[0.46,0.08],[0.5,0.07],[0.54,0.059],[0.58,0.049],[0.62,0.041],[0.66,0.035],[0.7,0.031],[0.74,0.03],[0.78,0.034],[0.81,0.045],[0.84,0.065],[0.86,0.085],[0.875,0.11],[0.89,0.14],[0.9,0.17],[0.91,0.2],[0.92,0.23],[0.928,0.25]];
const red19 = [[0,0.007],[0.04,0.005],[0.08,0.009],[0.12,0.011],[0.16,0.014],[0.2,0.02],[0.24,0.035],[0.28,0.058],[0.32,0.08],[0.35,0.09],[0.38,0.095],[0.41,0.094],[0.44,0.088],[0.48,0.078],[0.52,0.066],[0.56,0.055],[0.6,0.046],[0.64,0.039],[0.68,0.034],[0.72,0.031],[0.76,0.03],[0.8,0.033],[0.84,0.045],[0.87,0.065],[0.9,0.095],[0.92,0.125],[0.935,0.15],[0.945,0.175],[0.953,0.2],[0.958,0.22],[0.963,0.24],[0.966,0.25]];
const red20 = [[0,0.005],[0.05,0.007],[0.1,0.009],[0.15,0.012],[0.2,0.017],[0.25,0.03],[0.3,0.055],[0.34,0.075],[0.38,0.086],[0.42,0.088],[0.46,0.084],[0.5,0.075],[0.54,0.064],[0.58,0.053],[0.62,0.044],[0.66,0.037],[0.7,0.033],[0.74,0.031],[0.78,0.033],[0.82,0.042],[0.86,0.06],[0.89,0.085],[0.91,0.11],[0.93,0.14],[0.945,0.165],[0.96,0.19],[0.97,0.2],[0.98,0.195],[0.99,0.21],[1.0,0.228]];
const red21 = [[0,0.003],[0.05,0.005],[0.1,0.007],[0.15,0.01],[0.2,0.014],[0.25,0.024],[0.3,0.042],[0.35,0.06],[0.4,0.072],[0.45,0.074],[0.5,0.068],[0.55,0.058],[0.6,0.048],[0.65,0.04],[0.7,0.034],[0.75,0.031],[0.8,0.033],[0.84,0.042],[0.88,0.06],[0.91,0.085],[0.935,0.115],[0.95,0.14],[0.96,0.16],[0.97,0.172],[0.98,0.16],[0.99,0.165],[1.0,0.173]];
const red22 = [[0,0.006],[0.05,0.004],[0.1,0.008],[0.15,0.011],[0.2,0.015],[0.25,0.026],[0.3,0.046],[0.35,0.066],[0.4,0.078],[0.45,0.078],[0.5,0.07],[0.55,0.058],[0.6,0.047],[0.65,0.039],[0.7,0.034],[0.75,0.032],[0.8,0.035],[0.85,0.048],[0.88,0.065],[0.91,0.09],[0.935,0.12],[0.955,0.145],[0.97,0.155],[0.98,0.15],[0.99,0.152],[0.995,0.145],[1.0,0.148]];
const red23 = [[0,0.009],[0.03,0.004],[0.06,0.008],[0.1,0.01],[0.14,0.012],[0.18,0.015],[0.22,0.022],[0.26,0.034],[0.3,0.05],[0.34,0.064],[0.38,0.074],[0.42,0.079],[0.46,0.078],[0.5,0.072],[0.54,0.062],[0.58,0.052],[0.62,0.043],[0.66,0.036],[0.7,0.03],[0.74,0.026],[0.78,0.025],[0.82,0.03],[0.86,0.044],[0.89,0.065],[0.92,0.095],[0.94,0.125],[0.955,0.155],[0.968,0.18]];
const red24 = [[0,0.004],[0.04,0.006],[0.08,0.008],[0.12,0.01],[0.16,0.013],[0.2,0.019],[0.24,0.032],[0.28,0.055],[0.31,0.075],[0.34,0.09],[0.37,0.099],[0.4,0.1],[0.43,0.096],[0.46,0.087],[0.5,0.074],[0.54,0.062],[0.58,0.052],[0.62,0.044],[0.66,0.037],[0.7,0.031],[0.74,0.027],[0.78,0.025],[0.82,0.027],[0.86,0.035],[0.89,0.048],[0.92,0.068],[0.945,0.095],[0.968,0.12]];
const red25 = [[0,0.002],[0.05,0.004],[0.1,0.006],[0.15,0.009],[0.2,0.013],[0.25,0.02],[0.3,0.035],[0.35,0.058],[0.39,0.08],[0.42,0.096],[0.45,0.104],[0.48,0.103],[0.51,0.096],[0.54,0.084],[0.57,0.07],[0.6,0.058],[0.64,0.046],[0.68,0.038],[0.72,0.032],[0.76,0.029],[0.8,0.029],[0.84,0.034],[0.87,0.045],[0.9,0.062],[0.93,0.088],[0.95,0.115],[0.968,0.14]];
const red26 = [[0,0.01],[0.02,0.005],[0.05,0.011],[0.08,0.007],[0.11,0.012],[0.14,0.014],[0.17,0.018],[0.2,0.026],[0.23,0.042],[0.26,0.062],[0.29,0.08],[0.32,0.091],[0.35,0.095],[0.38,0.092],[0.41,0.085],[0.44,0.077],[0.48,0.068],[0.52,0.06],[0.56,0.053],[0.6,0.047],[0.64,0.043],[0.68,0.04],[0.72,0.037],[0.76,0.035],[0.8,0.037],[0.84,0.045],[0.88,0.06],[0.91,0.08],[0.935,0.105],[0.955,0.13],[0.968,0.145]];
const red27 = [[0,0.005],[0.04,0.008],[0.08,0.01],[0.12,0.012],[0.16,0.016],[0.2,0.024],[0.23,0.04],[0.26,0.058],[0.29,0.075],[0.32,0.085],[0.35,0.084],[0.38,0.078],[0.42,0.07],[0.46,0.063],[0.5,0.056],[0.55,0.048],[0.6,0.041],[0.65,0.035],[0.7,0.03],[0.75,0.026],[0.8,0.024],[0.84,0.027],[0.88,0.036],[0.91,0.048],[0.94,0.062],[0.968,0.075]];
const red28 = [[0,0.003],[0.05,0.005],[0.1,0.007],[0.15,0.009],[0.2,0.012],[0.25,0.02],[0.3,0.036],[0.35,0.055],[0.4,0.068],[0.44,0.07],[0.48,0.066],[0.52,0.058],[0.56,0.049],[0.6,0.041],[0.65,0.033],[0.7,0.027],[0.75,0.022],[0.8,0.019],[0.84,0.02],[0.88,0.026],[0.92,0.036],[0.95,0.048],[0.968,0.06]];
const red29 = [[0,0.004],[0.05,0.006],[0.1,0.008],[0.15,0.01],[0.2,0.013],[0.25,0.02],[0.3,0.034],[0.35,0.05],[0.4,0.06],[0.45,0.062],[0.5,0.057],[0.55,0.047],[0.6,0.036],[0.65,0.026],[0.7,0.018],[0.74,0.013],[0.78,0.012],[0.82,0.016],[0.86,0.026],[0.9,0.042],[0.93,0.06],[0.955,0.08],[0.968,0.09]];
const red30 = [[0,0.007],[0.04,0.005],[0.08,0.009],[0.12,0.012],[0.16,0.015],[0.2,0.021],[0.24,0.036],[0.28,0.06],[0.31,0.08],[0.34,0.096],[0.37,0.106],[0.39,0.11],[0.41,0.109],[0.44,0.1],[0.47,0.088],[0.5,0.076],[0.54,0.063],[0.58,0.053],[0.62,0.045],[0.66,0.039],[0.7,0.035],[0.74,0.033],[0.78,0.034],[0.82,0.04],[0.85,0.052],[0.88,0.072],[0.91,0.1],[0.93,0.13],[0.95,0.165],[0.962,0.19],[0.968,0.2]];
const red31 = [[0,0.005],[0.05,0.007],[0.1,0.009],[0.15,0.011],[0.2,0.015],[0.25,0.025],[0.3,0.042],[0.35,0.06],[0.4,0.072],[0.45,0.075],[0.5,0.07],[0.55,0.062],[0.6,0.055],[0.65,0.051],[0.7,0.053],[0.75,0.052],[0.78,0.049],[0.81,0.05],[0.84,0.058],[0.87,0.07],[0.9,0.088],[0.93,0.112],[0.95,0.135],[0.968,0.155]];
const red32 = [[0,0.014],[0.01,0.004],[0.02,0.016],[0.03,0.006],[0.04,0.012],[0.055,0.008],[0.07,0.013],[0.085,0.01],[0.1,0.015],[0.12,0.013],[0.14,0.017],[0.16,0.016],[0.18,0.02],[0.2,0.024],[0.22,0.03],[0.24,0.04],[0.26,0.052],[0.28,0.066],[0.3,0.078],[0.32,0.086],[0.34,0.09],[0.36,0.088],[0.38,0.085],[0.4,0.087],[0.42,0.082],[0.44,0.078],[0.47,0.07],[0.5,0.064],[0.54,0.056],[0.58,0.049],[0.62,0.043],[0.66,0.039],[0.7,0.036],[0.74,0.034],[0.78,0.035],[0.82,0.04],[0.86,0.052],[0.89,0.068],[0.92,0.09],[0.945,0.12],[0.968,0.155]];
const red33 = [[0,0.006],[0.05,0.008],[0.1,0.01],[0.15,0.013],[0.2,0.018],[0.25,0.03],[0.3,0.052],[0.34,0.072],[0.38,0.085],[0.42,0.09],[0.46,0.086],[0.5,0.077],[0.54,0.066],[0.58,0.055],[0.62,0.046],[0.66,0.039],[0.7,0.034],[0.74,0.031],[0.78,0.034],[0.81,0.045],[0.83,0.07],[0.845,0.1],[0.86,0.13],[0.875,0.15],[0.89,0.156],[0.906,0.159],[0.915,0.16],[0.93,0.175],[0.945,0.2],[0.955,0.22],[0.962,0.24],[0.966,0.25]];
const red34 = [[0,0.008],[0.03,0.012],[0.06,0.006],[0.09,0.01],[0.12,0.009],[0.15,0.012],[0.18,0.014],[0.21,0.018],[0.24,0.026],[0.27,0.038],[0.3,0.054],[0.33,0.07],[0.36,0.084],[0.39,0.094],[0.42,0.099],[0.44,0.1],[0.46,0.098],[0.49,0.092],[0.52,0.083],[0.55,0.072],[0.58,0.061],[0.61,0.052],[0.64,0.045],[0.68,0.038],[0.72,0.032],[0.76,0.029],[0.8,0.028],[0.84,0.032],[0.88,0.045],[0.91,0.065],[0.935,0.09],[0.955,0.115],[0.968,0.125]];
const red35 = [[0,0.004],[0.04,0.009],[0.08,0.007],[0.12,0.011],[0.16,0.013],[0.2,0.017],[0.24,0.027],[0.28,0.042],[0.31,0.055],[0.34,0.064],[0.36,0.07],[0.38,0.067],[0.4,0.074],[0.42,0.07],[0.44,0.076],[0.46,0.071],[0.48,0.075],[0.5,0.069],[0.52,0.072],[0.54,0.066],[0.56,0.064],[0.6,0.056],[0.64,0.048],[0.68,0.041],[0.72,0.036],[0.76,0.033],[0.8,0.034],[0.84,0.04],[0.88,0.054],[0.91,0.072],[0.94,0.1],[0.968,0.135]];
const red36 = [[0,0.011],[0.02,0.004],[0.04,0.01],[0.06,0.006],[0.08,0.011],[0.11,0.009],[0.14,0.013],[0.17,0.015],[0.2,0.02],[0.23,0.03],[0.26,0.042],[0.29,0.056],[0.32,0.068],[0.35,0.08],[0.38,0.088],[0.41,0.095],[0.44,0.098],[0.47,0.096],[0.5,0.09],[0.53,0.081],[0.56,0.071],[0.59,0.062],[0.62,0.054],[0.65,0.047],[0.68,0.041],[0.71,0.037],[0.74,0.034],[0.77,0.033],[0.8,0.035],[0.83,0.041],[0.86,0.052],[0.89,0.07],[0.92,0.095],[0.945,0.13],[0.968,0.17]];
const red37 = [[0,0.003],[0.03,0.008],[0.06,0.006],[0.1,0.009],[0.14,0.012],[0.18,0.017],[0.22,0.028],[0.26,0.048],[0.3,0.068],[0.33,0.08],[0.36,0.085],[0.39,0.083],[0.42,0.077],[0.46,0.068],[0.5,0.059],[0.55,0.05],[0.6,0.042],[0.65,0.035],[0.7,0.029],[0.75,0.025],[0.8,0.023],[0.84,0.026],[0.88,0.034],[0.92,0.047],[0.95,0.06],[0.968,0.07]];
const red38 = [[0,0.006],[0.02,0.012],[0.04,0.005],[0.07,0.009],[0.1,0.008],[0.13,0.011],[0.16,0.013],[0.2,0.017],[0.24,0.027],[0.28,0.045],[0.31,0.06],[0.34,0.074],[0.36,0.082],[0.38,0.088],[0.4,0.093],[0.42,0.095],[0.44,0.093],[0.46,0.09],[0.48,0.084],[0.5,0.079],[0.52,0.072],[0.55,0.064],[0.58,0.056],[0.61,0.05],[0.64,0.044],[0.67,0.04],[0.7,0.036],[0.73,0.033],[0.76,0.032],[0.79,0.033],[0.82,0.037],[0.85,0.046],[0.88,0.06],[0.91,0.08],[0.935,0.105],[0.955,0.14],[0.968,0.16]];
const red39 = [[0,0.004],[0.04,0.007],[0.08,0.008],[0.12,0.01],[0.16,0.013],[0.2,0.018],[0.24,0.028],[0.28,0.042],[0.32,0.056],[0.36,0.065],[0.4,0.064],[0.44,0.058],[0.48,0.05],[0.52,0.043],[0.56,0.037],[0.6,0.032],[0.65,0.027],[0.7,0.023],[0.75,0.02],[0.8,0.02],[0.84,0.024],[0.88,0.033],[0.91,0.045],[0.94,0.06],[0.968,0.08]];
const red40 = [[0,0.005],[0.04,0.008],[0.08,0.01],[0.12,0.012],[0.16,0.014],[0.2,0.018],[0.25,0.028],[0.3,0.048],[0.34,0.07],[0.37,0.09],[0.4,0.106],[0.42,0.114],[0.44,0.117],[0.46,0.115],[0.48,0.108],[0.5,0.098],[0.53,0.082],[0.56,0.067],[0.6,0.052],[0.64,0.041],[0.68,0.034],[0.72,0.029],[0.76,0.027],[0.8,0.028],[0.84,0.035],[0.88,0.05],[0.91,0.07],[0.935,0.095],[0.955,0.125],[0.968,0.145]];
const red41 = [[0,0.002],[0.05,0.004],[0.1,0.006],[0.15,0.008],[0.2,0.011],[0.25,0.016],[0.3,0.025],[0.35,0.04],[0.4,0.058],[0.44,0.072],[0.47,0.08],[0.5,0.085],[0.53,0.086],[0.56,0.082],[0.59,0.074],[0.62,0.064],[0.65,0.054],[0.68,0.046],[0.71,0.04],[0.74,0.036],[0.77,0.034],[0.8,0.035],[0.83,0.04],[0.86,0.05],[0.89,0.065],[0.92,0.085],[0.945,0.11],[0.968,0.135]];
const red42 = [[0,0.009],[0.02,0.014],[0.04,0.006],[0.06,0.012],[0.08,0.008],[0.1,0.012],[0.13,0.011],[0.16,0.014],[0.19,0.018],[0.22,0.024],[0.25,0.036],[0.27,0.05],[0.29,0.066],[0.31,0.08],[0.33,0.09],[0.35,0.094],[0.37,0.09],[0.39,0.086],[0.41,0.08],[0.44,0.072],[0.47,0.065],[0.5,0.058],[0.54,0.05],[0.58,0.044],[0.62,0.039],[0.66,0.035],[0.7,0.032],[0.74,0.03],[0.78,0.031],[0.82,0.036],[0.86,0.047],[0.89,0.062],[0.92,0.082],[0.945,0.105],[0.968,0.13]];
const red43 = [[0,0.005],[0.05,0.006],[0.1,0.008],[0.15,0.01],[0.2,0.014],[0.25,0.022],[0.3,0.038],[0.35,0.055],[0.39,0.066],[0.43,0.07],[0.47,0.066],[0.51,0.057],[0.55,0.046],[0.59,0.035],[0.63,0.026],[0.67,0.019],[0.71,0.015],[0.75,0.015],[0.79,0.018],[0.83,0.026],[0.87,0.04],[0.9,0.056],[0.93,0.075],[0.955,0.092],[0.968,0.1]];
const red44 = [[0,0.007],[0.04,0.004],[0.08,0.009],[0.12,0.011],[0.16,0.014],[0.2,0.019],[0.24,0.03],[0.28,0.05],[0.32,0.07],[0.36,0.084],[0.4,0.09],[0.44,0.088],[0.48,0.08],[0.52,0.069],[0.56,0.058],[0.6,0.049],[0.64,0.042],[0.68,0.037],[0.72,0.034],[0.76,0.033],[0.8,0.036],[0.83,0.045],[0.86,0.06],[0.89,0.085],[0.91,0.11],[0.93,0.14],[0.95,0.17],[0.968,0.19]];
const red45 = [[0,0.005],[0.03,0.01],[0.06,0.007],[0.09,0.011],[0.12,0.01],[0.15,0.013],[0.18,0.016],[0.21,0.022],[0.24,0.032],[0.27,0.046],[0.3,0.06],[0.32,0.068],[0.34,0.075],[0.36,0.072],[0.38,0.08],[0.4,0.076],[0.42,0.084],[0.44,0.078],[0.46,0.082],[0.48,0.075],[0.5,0.078],[0.52,0.07],[0.54,0.068],[0.57,0.06],[0.6,0.053],[0.63,0.047],[0.66,0.042],[0.69,0.038],[0.72,0.035],[0.75,0.033],[0.78,0.032],[0.81,0.034],[0.84,0.04],[0.87,0.05],[0.9,0.066],[0.93,0.088],[0.955,0.115],[0.968,0.13]];
const red46 = [[0,0.003],[0.05,0.004],[0.1,0.006],[0.15,0.008],[0.2,0.01],[0.25,0.015],[0.3,0.024],[0.35,0.036],[0.4,0.048],[0.45,0.055],[0.5,0.054],[0.55,0.048],[0.6,0.04],[0.65,0.032],[0.7,0.025],[0.75,0.021],[0.8,0.02],[0.84,0.023],[0.88,0.03],[0.92,0.042],[0.95,0.053],[0.968,0.062]];
const red47 = [[0,0.008],[0.03,0.005],[0.06,0.01],[0.1,0.011],[0.14,0.014],[0.18,0.019],[0.22,0.032],[0.26,0.055],[0.29,0.075],[0.32,0.092],[0.34,0.1],[0.36,0.105],[0.38,0.104],[0.4,0.099],[0.43,0.09],[0.46,0.079],[0.5,0.066],[0.54,0.055],[0.58,0.046],[0.62,0.039],[0.66,0.034],[0.7,0.03],[0.74,0.028],[0.78,0.029],[0.82,0.035],[0.86,0.05],[0.89,0.072],[0.92,0.105],[0.945,0.145],[0.96,0.18],[0.968,0.2]];

const blueLines = [blue01,blue02,blue03,blue04,blue05,blue06,blue07,blue08,blue09,blue10,blue11,blue12,blue13,blue14,blue15,blue16,blue17,blue18,blue19,blue20,blue21,blue22,blue23,blue24,blue25,blue26,blue27,blue28,blue29,blue30,blue31,blue32,blue33,blue34,blue35,blue36,blue37,blue38,blue39,blue40,blue41,blue42];
const redLines = [red01,red02,red03,red04,red05,red06,red07,red08,red09,red10,red11,red12,red13,red14,red15,red16,red17,red18,red19,red20,red21,red22,red23,red24,red25,red26,red27,red28,red29,red30,red31,red32,red33,red34,red35,red36,red37,red38,red39,red40,red41,red42,red43,red44,red45,red46,red47];

const FONT = 'DejaVu Sans';
const chart = echarts.init(document.getElementById('c'), null, {renderer: 'canvas'});

const grids = [
  {left: 83, top: 39.5, width: 394, height: 357.5},
  {left: 601.5, top: 39.5, width: 395.5, height: 357.5}
];
const xAxes = [], yAxes = [];
grids.forEach((g, i) => {
  xAxes.push({
    type: 'value', gridIndex: i, min: xTicks[0], max: xTicks[xTicks.length - 1], interval: 0.2,
    name: xName, nameLocation: 'middle', nameGap: 30,
    nameTextStyle: {fontFamily: FONT, fontSize: 22, color: '#262626'},
    axisLine: {show: true, onZero: false, lineStyle: {color: '#262626', width: 1}},
    axisTick: {show: true, inside: true, length: 4, lineStyle: {color: '#262626'}},
    axisLabel: {fontFamily: FONT, fontSize: 16, color: '#333', margin: 7},
    splitLine: {show: false}
  });
  xAxes.push({
    type: 'value', gridIndex: i, position: 'top', min: 0, max: 1,
    axisLine: {show: true, onZero: false, lineStyle: {color: '#d9d9d9', width: 1}},
    axisTick: {show: false}, axisLabel: {show: false}, splitLine: {show: false}
  });
  yAxes.push({
    type: 'value', gridIndex: i, min: yTicks[0], max: yTicks[yTicks.length - 1], interval: 0.05,
    name: yName, nameLocation: 'middle', nameGap: 50,
    nameTextStyle: {fontFamily: FONT, fontSize: 23, color: '#262626'},
    axisLine: {show: true, onZero: false, lineStyle: {color: '#404040', width: 1}},
    axisTick: {show: true, inside: true, length: 4, lineStyle: {color: '#404040'}},
    axisLabel: {fontFamily: FONT, fontSize: 16, color: '#333', margin: 6},
    splitLine: {show: false}
  });
});

const series = [];
blueLines.forEach(d => series.push({
  type: 'line', xAxisIndex: 0, yAxisIndex: 0, data: d, showSymbol: false, symbol: 'none',
  lineStyle: {color: 'rgba(0,0,255,0.8)', width: 1}, silent: true, clip: true
}));
redLines.forEach(d => series.push({
  type: 'line', xAxisIndex: 2, yAxisIndex: 1, data: d, showSymbol: false, symbol: 'none',
  lineStyle: {color: 'rgba(255,0,0,0.75)', width: 1}, silent: true, clip: true
}));

chart.setOption({
  animation: false,
  backgroundColor: '#fff',
  title: [
    {text: titles[0], left: 285, top: 0, textAlign: 'center', textStyle: {fontFamily: FONT, fontSize: 26, fontWeight: 'normal', color: '#000'}},
    {text: titles[1], left: 804, top: 0, textAlign: 'center', textStyle: {fontFamily: FONT, fontSize: 26, fontWeight: 'normal', color: '#000'}}
  ],
  grid: grids,
  xAxis: xAxes,
  yAxis: yAxes,
  series: series
});
</script>
</body>
</html>
